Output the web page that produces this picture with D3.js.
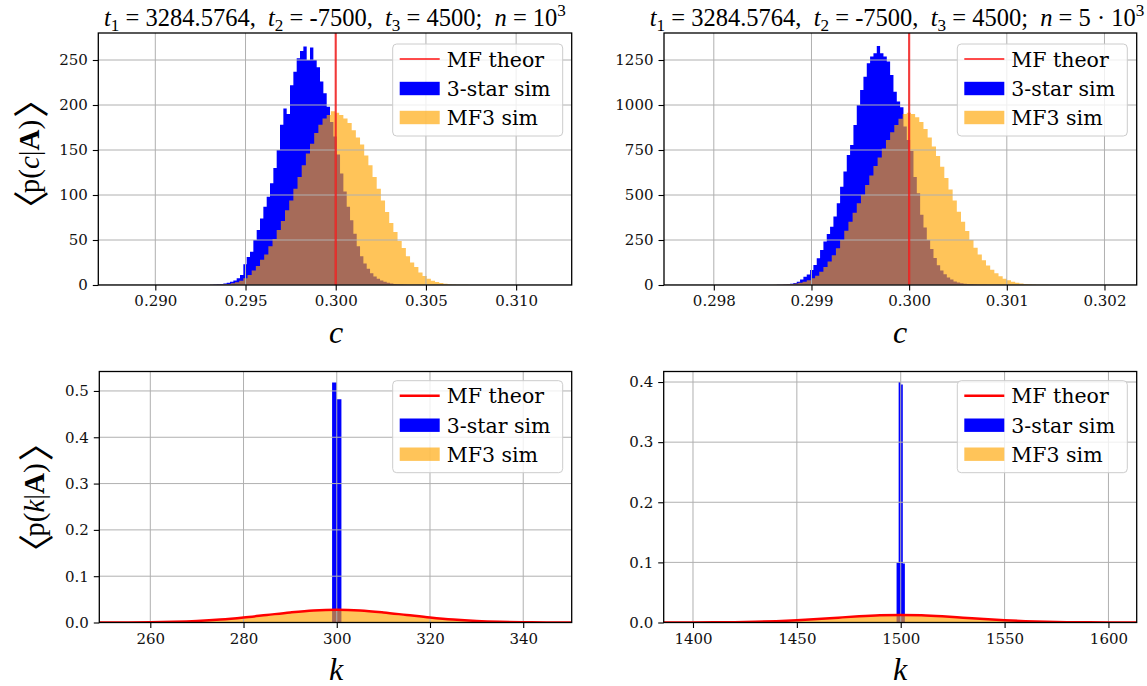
<!DOCTYPE html>
<html>
<head>
<meta charset="utf-8">
<script src="https://cdn.jsdelivr.net/npm/d3@7"></script>
<style>
  body { margin: 0; background: #fff; }
  text { white-space: pre; }
</style>
</head>
<body>
<svg id="fig" width="1147" height="686"></svg>
<script>
// ---------------- data ----------------
// Posterior of c (n = 1000): 3-star simulation histogram
const starC1Start = 0.293032;
const starC1Width = 0.0001848;
const starC1Density = [
  0.3, 0.5, 0.8, 1.1, 1.6, 2.4, 3.5, 5, 7.5, 11,
  23, 31, 37, 50, 61, 74, 87, 98, 113, 130,
  150, 178, 196, 190, 222, 237, 252, 260, 265, 250,
  264, 250, 242, 226, 213, 198, 181, 165, 145, 124,
  104, 87, 72, 57, 43, 32, 24, 18, 13, 9.5,
  7, 5, 3.7, 2.6, 1.8, 1.2, 0.8, 0.5, 0.3
];
// Posterior of c (n = 1000): MF3 simulation histogram
const mf3C1Start = 0.293032;
const mf3C1Width = 0.000231;
const mf3C1Density = [
  0.2, 0.4, 0.5, 0.7, 1.1, 1.9, 3, 4.8, 7.4, 11,
  16, 21, 28, 34, 43, 51, 61, 71, 83, 94,
  107, 120, 133, 146, 157, 169, 178, 185, 189, 193,
  191.5, 189, 185, 180, 172, 164, 156, 144, 133, 120,
  107, 94, 81, 69, 59, 49, 41, 32, 25, 20,
  14, 10, 7, 4.8, 3.3, 2.2, 1.5, 0.9, 0.6, 0.4,
  0.3, 0.2, 0.1
];
const cTheor1 = 0.300;

// Posterior of c (n = 5000)
const starC5Start = 0.2986099;
const starC5Width = 0.000034153;
const starC5Density = [
  0.5, 1, 2, 3, 4, 6.5, 11, 18.5, 31, 46,
  59, 83, 111, 148, 194, 241, 283, 324, 380, 454,
  546, 630, 722, 778, 889, 1000, 1083, 1157, 1232, 1269,
  1287, 1328, 1287, 1269, 1241, 1167, 1074, 1019, 987, 880,
  805, 745, 600, 510, 390, 320, 250, 200, 150, 110,
  80, 60, 42, 30, 20, 14, 10, 7, 5, 3.5,
  2.5, 1.7, 1.1, 0.7, 0.4
];
const mf3C5Start = 0.2986099;
const mf3C5Width = 0.00004269;
const mf3C5Density = [
  1, 2, 3, 4, 5.5, 8, 12, 18, 26, 37,
  52, 74, 100, 130, 165, 204, 250, 302, 352, 402,
  454, 502, 556, 609, 661, 709, 759, 806, 848, 889,
  924, 950, 957, 950, 932, 906, 867, 820, 769, 717,
  657, 594, 531, 469, 407, 352, 300, 250, 207, 169,
  137, 109, 85, 65, 48, 35, 26, 18.5, 13, 9,
  6, 4, 2.7, 1.8, 1.2, 0.8, 0.5
];
const cTheor5 = 0.300;

// Degree distributions, n = 1000
const kGrid1 = [245, 250, 255, 260, 265, 270, 275, 280, 285, 290, 295, 300,
                305, 310, 315, 320, 325, 330, 335, 340, 345, 350, 355];
const kTheor1 = [0.00002, 0.00007, 0.00022, 0.00061, 0.0015, 0.00325, 0.00625, 0.0107, 0.0162, 0.0217, 0.026, 0.0276,
                 0.026, 0.0217, 0.0162, 0.0107, 0.00625, 0.00325, 0.0015, 0.00061, 0.00022, 0.00007, 0.00002];
const kMf3Sim1 = [0.00002, 0.00007, 0.00022, 0.00061, 0.0015, 0.00325, 0.00625, 0.0107, 0.0162, 0.0217, 0.026, 0.0276,
                  0.026, 0.0217, 0.0162, 0.0107, 0.00625, 0.00325, 0.0015, 0.00061, 0.00022, 0.00007, 0.00002];
const kStar1Edges = [299, 300, 301];
const kStar1Density = [0.518, 0.482];

// Degree distributions, n = 5000
const kGrid5 = [1380, 1390, 1400, 1410, 1420, 1430, 1440, 1450, 1460, 1470, 1480, 1490, 1500,
                1510, 1520, 1530, 1540, 1550, 1560, 1570, 1580, 1590, 1600, 1610, 1620];
const kTheor5 = [0.00001, 0.00004, 0.00011, 0.00026, 0.00059, 0.00121, 0.00225, 0.0038, 0.0058, 0.0081, 0.0103, 0.0119, 0.0125,
                 0.0119, 0.0103, 0.0081, 0.0058, 0.0038, 0.00225, 0.00121, 0.00059, 0.00026, 0.00011, 0.00004, 0.00001];
const kMf3Sim5 = [0.00001, 0.00004, 0.00011, 0.00026, 0.00059, 0.00121, 0.00225, 0.0038, 0.0058, 0.0081, 0.0103, 0.0119, 0.0125,
                  0.0119, 0.0103, 0.0081, 0.0058, 0.0038, 0.00225, 0.00121, 0.00059, 0.00026, 0.00011, 0.00004, 0.00001];
const kStar5Edges = [1498, 1499, 1500, 1501, 1502];
const kStar5Density = [0.1, 0.4, 0.396, 0.098];

// Tick values
const cTicks1 = [0.290, 0.295, 0.300, 0.305, 0.310];
const pcTicks1 = [0, 50, 100, 150, 200, 250];
const cTicks5 = [0.298, 0.299, 0.300, 0.301, 0.302];
const pcTicks5 = [0, 250, 500, 750, 1000, 1250];
const kTicks1 = [260, 280, 300, 320, 340];
const pkTicks1 = [0, 0.1, 0.2, 0.3, 0.4, 0.5];
const kTicks5 = [1400, 1450, 1500, 1550, 1600];
const pkTicks5 = [0, 0.1, 0.2, 0.3, 0.4];

const legendLabels = ["MF theor", "3-star sim", "MF3 sim"];

// ---------------- styling ----------------
const mathFont = "'Liberation Serif', 'DejaVu Serif', serif";
const textFont = "'DejaVu Serif', serif";
const bracketFont = "'Noto Sans CJK JP', 'DejaVu Sans'";
const BLUE = "#0000ff", ORANGE = "#ffa500", RED = "#ff0000", GRID = "#b0b0b0";
const ORANGE_ALPHA = 0.65;

const svg = d3.select("#fig");
const defs = svg.append("defs");

// Turn uniform-bin histogram into step points (start edge + width)
function uniformBins(start, width, dens) {
  const pts = dens.map((d, i) => ({ x: start + i * width, y: d }));
  pts.push({ x: start + dens.length * width, y: dens[dens.length - 1] });
  return pts;
}
function edgeBins(edges, dens) {
  const pts = dens.map((d, i) => ({ x: edges[i], y: d }));
  pts.push({ x: edges[edges.length - 1], y: dens[dens.length - 1] });
  return pts;
}

function stepArea(g, x, y, pts, fill, opacity) {
  const area = d3.area().curve(d3.curveStepAfter)
    .x(d => x(d.x)).y0(y(0)).y1(d => y(d.y));
  g.append("path").datum(pts).attr("d", area)
    .attr("fill", fill).attr("fill-opacity", opacity).attr("stroke", "none");
}

// math-like text built from tspans
function addMath(g, parts, o) {
  const t = g.append("text")
    .attr("x", o.x).attr("y", o.y)
    .attr("xml:space", "preserve")
    .attr("text-anchor", o.anchor || "middle")
    .style("font-family", mathFont)
    .style("font-size", o.size + "px")
    .attr("fill", "#000");
  if (o.baseline) t.attr("dominant-baseline", o.baseline);
  if (o.rotate) t.attr("transform", `rotate(${o.rotate},${o.x},${o.y})`);
  let shift = 0;
  parts.forEach(p => {
    const s = t.append("tspan").text(p.t);
    const target = p.sub ? 0.22 : (p.sup ? -0.42 : 0);
    const dy = (target - shift) * o.size;
    if (dy) s.attr("dy", dy);
    shift = target;
    if (p.dx) s.attr("dx", p.dx);
    if (p.sub || p.sup) s.style("font-size", (o.size * 0.7) + "px");
    if (p.scale) s.style("font-size", (o.size * p.scale) + "px");
    if (p.it) s.style("font-style", "italic");
    if (p.bf) s.style("font-weight", "bold");
    if (p.font) s.style("font-family", p.font);
  });
  return t;
}

function drawLegend(g, bx, by, theorAlpha, theorWidth) {
  const w = 170, h = 92;
  g.append("rect").attr("x", bx).attr("y", by).attr("width", w).attr("height", h)
    .attr("rx", 4).attr("ry", 4)
    .attr("fill", "#fff").attr("fill-opacity", 0.8)
    .attr("stroke", "#cccccc").attr("stroke-width", 1);
  const rows = [15, 44.5, 73.5];
  const hx0 = bx + 7, hx1 = bx + 47;
  g.append("line").attr("x1", hx0).attr("x2", hx1)
    .attr("y1", by + rows[0]).attr("y2", by + rows[0])
    .attr("stroke", RED).attr("stroke-opacity", theorAlpha).attr("stroke-width", theorWidth);
  g.append("rect").attr("x", hx0).attr("y", by + rows[1] - 6.7).attr("width", hx1 - hx0).attr("height", 13.4)
    .attr("fill", BLUE);
  g.append("rect").attr("x", hx0).attr("y", by + rows[2] - 6.7).attr("width", hx1 - hx0).attr("height", 13.4)
    .attr("fill", ORANGE).attr("fill-opacity", ORANGE_ALPHA);
  legendLabels.forEach((lab, i) => {
    g.append("text").attr("x", bx + 54).attr("y", by + rows[i] + 7.5)
      .style("font-family", textFont).style("font-size", "20.5px")
      .attr("fill", "#000").text(lab);
  });
}

function drawPanel(p) {
  const g = svg.append("g");
  const x = d3.scaleLinear().domain(p.xDomain).range([p.left, p.right]);
  const y = d3.scaleLinear().domain(p.yDomain).range([p.bottom, p.top]);
  const clipId = "clip-" + p.id;
  defs.append("clipPath").attr("id", clipId).append("rect")
    .attr("x", p.left).attr("y", p.top)
    .attr("width", p.right - p.left).attr("height", p.bottom - p.top);
  const plot = g.append("g").attr("clip-path", `url(#${clipId})`);

  // histograms: 3-star underneath, MF3 semi-transparent on top
  stepArea(plot, x, y, p.star, BLUE, 1);
  if (p.mf3Hist) stepArea(plot, x, y, p.mf3Hist, ORANGE, ORANGE_ALPHA);
  if (p.mf3Curve) {
    const area = d3.area().curve(d3.curveMonotoneX)
      .x(d => x(d.x)).y0(y(0)).y1(d => y(d.y));
    plot.append("path").datum(p.mf3Curve).attr("d", area)
      .attr("fill", ORANGE).attr("fill-opacity", ORANGE_ALPHA);
  }

  // grid above the bars
  const grid = plot.append("g").attr("stroke", GRID).attr("stroke-width", 1);
  grid.selectAll(".gx").data(p.xTicks).join("line")
    .attr("x1", d => x(d)).attr("x2", d => x(d)).attr("y1", p.top).attr("y2", p.bottom);
  grid.selectAll(".gy").data(p.yTicks).join("line")
    .attr("y1", d => y(d)).attr("y2", d => y(d)).attr("x1", p.left).attr("x2", p.right);

  // theoretical mean-field
  if (p.theorC !== undefined) {
    plot.append("line").attr("x1", x(p.theorC)).attr("x2", x(p.theorC))
      .attr("y1", p.top).attr("y2", p.bottom)
      .attr("stroke", RED).attr("stroke-opacity", 0.7).attr("stroke-width", 2.2);
  }
  if (p.theorCurve) {
    const line = d3.line().curve(d3.curveMonotoneX).x(d => x(d.x)).y(d => y(d.y));
    plot.append("path").datum(p.theorCurve).attr("d", line)
      .attr("fill", "none").attr("stroke", RED).attr("stroke-width", 2.5);
  }

  // axes
  const ax = g.append("g").attr("transform", `translate(0,${p.bottom})`)
    .call(d3.axisBottom(x).tickValues(p.xTicks).tickFormat(p.xFmt).tickSize(5.5).tickPadding(5));
  const ay = g.append("g").attr("transform", `translate(${p.left},0)`)
    .call(d3.axisLeft(y).tickValues(p.yTicks).tickFormat(p.yFmt).tickSize(5.5).tickPadding(5));
  [ax, ay].forEach(a => {
    a.select(".domain").remove();
    a.selectAll(".tick line").attr("stroke", "#000").attr("stroke-width", 1.1);
    a.selectAll(".tick text").style("font-family", textFont).style("font-size", "15px").attr("fill", "#111");
  });

  // frame
  g.append("rect").attr("x", p.left).attr("y", p.top)
    .attr("width", p.right - p.left).attr("height", p.bottom - p.top)
    .attr("fill", "none").attr("stroke", "#000").attr("stroke-width", 1.3);

  drawLegend(g, p.legendX, p.legendY, p.theorC !== undefined ? 0.7 : 1, p.theorC !== undefined ? 2.2 : 2.5);
  return { x, y };
}

const fmt3 = d3.format(".3f"), fmt1 = d3.format(".1f"), fmt0 = d3.format("d");

drawPanel({
  id: "c1", left: 98.3, right: 571.7, top: 33, bottom: 285,
  xDomain: [0.28684, 0.31308], yDomain: [0, 280],
  xTicks: cTicks1, yTicks: pcTicks1, xFmt: fmt3, yFmt: fmt0,
  star: uniformBins(starC1Start, starC1Width, starC1Density),
  mf3Hist: uniformBins(mf3C1Start, mf3C1Width, mf3C1Density),
  theorC: cTheor1, legendX: 392.7, legendY: 44
});
drawPanel({
  id: "c5", left: 664, right: 1136.7, top: 33, bottom: 285,
  xDomain: [0.29749, 0.30233], yDomain: [0, 1400],
  xTicks: cTicks5, yTicks: pcTicks5, xFmt: fmt3, yFmt: fmt0,
  star: uniformBins(starC5Start, starC5Width, starC5Density),
  mf3Hist: uniformBins(mf3C5Start, mf3C5Width, mf3C5Density),
  theorC: cTheor5, legendX: 957.3, legendY: 44
});
drawPanel({
  id: "k1", left: 99.3, right: 571.7, top: 371.5, bottom: 622.5,
  xDomain: [249.06, 350.4], yDomain: [0, 0.542],
  xTicks: kTicks1, yTicks: pkTicks1, xFmt: fmt0, yFmt: fmt1,
  star: edgeBins(kStar1Edges, kStar1Density),
  mf3Curve: kGrid1.map((k, i) => ({ x: k, y: kMf3Sim1[i] })),
  theorCurve: kGrid1.map((k, i) => ({ x: k, y: kTheor1[i] })),
  legendX: 392.7, legendY: 380.7
});
drawPanel({
  id: "k5", left: 663.7, right: 1136.7, top: 371.5, bottom: 622.5,
  xDomain: [1385.9, 1613.6], yDomain: [0, 0.4175],
  xTicks: kTicks5, yTicks: pkTicks5, xFmt: fmt0, yFmt: fmt1,
  star: edgeBins(kStar5Edges, kStar5Density),
  mf3Curve: kGrid5.map((k, i) => ({ x: k, y: kMf3Sim5[i] })),
  theorCurve: kGrid5.map((k, i) => ({ x: k, y: kTheor5[i] })),
  legendX: 957.3, legendY: 380.7
});

// titles
const labels = svg.append("g");
addMath(labels, [
  { t: "t", it: true }, { t: "1", sub: true }, { t: " = 3284.5764,  " },
  { t: "t", it: true }, { t: "2", sub: true }, { t: " = -7500,  " },
  { t: "t", it: true }, { t: "3", sub: true }, { t: " = 4500;  " },
  { t: "n", it: true }, { t: " = 10" }, { t: "3", sup: true }
], { x: 335, y: 26, size: 24.5 });
addMath(labels, [
  { t: "t", it: true }, { t: "1", sub: true }, { t: " = 3284.5764,  " },
  { t: "t", it: true }, { t: "2", sub: true }, { t: " = -7500,  " },
  { t: "t", it: true }, { t: "3", sub: true }, { t: " = 4500;  " },
  { t: "n", it: true }, { t: " = 5 · 10" }, { t: "3", sup: true }
], { x: 897, y: 26, size: 24.5 });

// axis labels
addMath(labels, [{ t: "c", it: true }], { x: 336, y: 343, size: 32 });
addMath(labels, [{ t: "c", it: true }], { x: 900, y: 343, size: 32 });
addMath(labels, [{ t: "k", it: true }], { x: 336, y: 680, size: 32 });
addMath(labels, [{ t: "k", it: true }], { x: 900, y: 680, size: 32 });

// angle brackets: thin CJK glyphs sit at the inner side of their em box
const yLab = v => [
  { t: "〈", scale: 1.25, font: bracketFont }, { t: "p(", dx: -3 }, { t: v, it: true }, { t: "|" },
  { t: "A", bf: true }, { t: ")", dx: 0 }, { t: "〉", scale: 1.25, font: bracketFont, dx: 2 }
];
addMath(labels, yLab("c"), { x: 28.5, y: 154, size: 29, rotate: -90, baseline: "central" });
addMath(labels, yLab("k"), { x: 33.5, y: 497.5, size: 29, rotate: -90, baseline: "central" });
</script>
</body>
</html>
